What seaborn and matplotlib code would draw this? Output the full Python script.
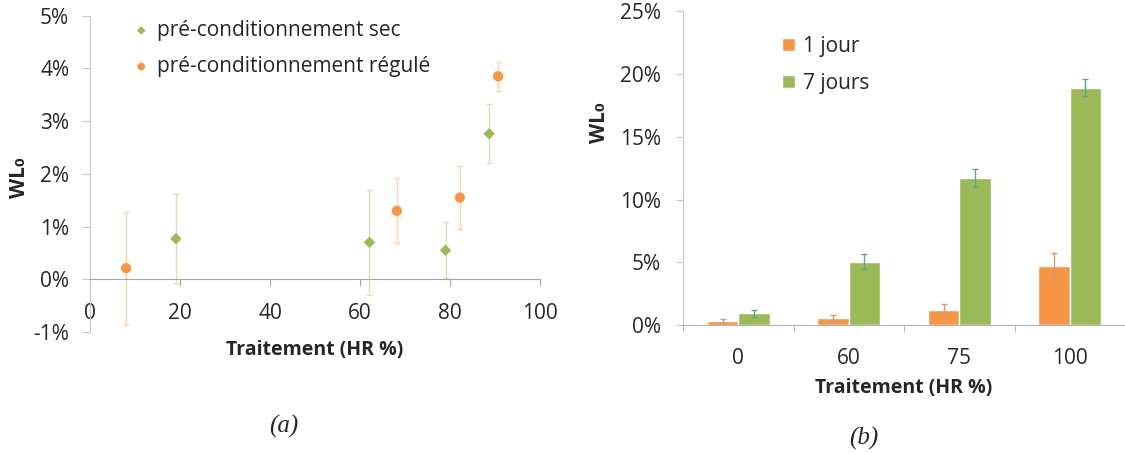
import numpy as np
import pandas as pd
import matplotlib
matplotlib.use("Agg")
import matplotlib.pyplot as plt
from matplotlib.ticker import FuncFormatter, FixedLocator
import seaborn as sns

# (a) perte de masse selon l'humidite du traitement
lab_sec = "pré-conditionnement sec"
lab_reg = "pré-conditionnement régulé"
hr_sec = [19.1, 62.1, 79.0, 88.7]
wl_sec = [0.77, 0.70, 0.55, 2.76]
err_sec = [0.84, 0.99, 0.53, 0.56]
hr_reg = [8.0, 68.2, 82.2, 90.7]
wl_reg = [0.21, 1.30, 1.55, 3.85]
err_reg = [1.07, 0.62, 0.60, 0.27]

# (b) 1 jour / 7 jours
traitements = ["0", "60", "75", "100"]
durees = ["1 jour", "7 jours"]
wl_1j = [0.34, 0.56, 1.24, 4.72]
err_1j = [0.15, 0.25, 0.45, 1.0]
wl_7j = [0.95, 5.07, 11.70, 18.9]
err_7j = [0.30, 0.60, 0.73, 0.70]

orange = "#F79646"
green = "#9BBB59"
txt = "#262626"
fs = 15

sns.set_style("ticks")
plt.rcParams["font.family"] = ["Open Sans", "DejaVu Sans"]
plt.rcParams["font.size"] = fs

fig = plt.figure(figsize=(11.25, 4.54), dpi=100)
W, H = 1125, 454
ax1 = fig.add_axes([90 / W, 1 - 332 / H, 450 / W, 316.3 / H])
ax2 = fig.add_axes([683 / W, 1 - 325.3 / H, 442 / W, 314.3 / H])

pct = FuncFormatter(lambda v, p: f"{v:.0f}%")

# ---- panel (a)
ax1.errorbar(hr_sec, wl_sec, yerr=err_sec, fmt="none", ecolor="#d5e2bd",
             elinewidth=1, capsize=2, capthick=1, zorder=2)
ax1.errorbar(hr_reg, wl_reg, yerr=err_reg, fmt="none", ecolor="#fbd3b0",
             elinewidth=1, capsize=2, capthick=1, zorder=2)
sns.scatterplot(x=hr_sec, y=wl_sec, color=green, marker="D", s=34,
                edgecolor="none", ax=ax1, zorder=3, label=lab_sec)
sns.scatterplot(x=hr_reg, y=wl_reg, color=orange, marker="o", s=55,
                edgecolor="none", ax=ax1, zorder=3, label=lab_reg)

ax1.set_xlim(0, 100)
ax1.set_ylim(-1, 5)
ax1.set_xticks(range(0, 101, 20))
ax1.set_yticks(range(-1, 6))
ax1.yaxis.set_major_formatter(pct)
for s in ["top", "right"]:
    ax1.spines[s].set_visible(False)
ax1.spines["bottom"].set_position(("data", 0))
ax1.spines["bottom"].set_color("#a6a6a6")
ax1.spines["left"].set_color("#c8c8c8")
ax1.tick_params(axis="x", length=5, color="#a6a6a6", pad=12, labelsize=fs, labelcolor=txt)
ax1.tick_params(axis="y", length=6, color="#c8c8c8", pad=9, labelsize=fs, labelcolor=txt)

ax1.set_xlabel("Traitement (HR %)", fontweight="bold", fontsize=fs - 1, color=txt)
ax1.xaxis.set_label_coords(0.5, -0.057)
ax1.xaxis.label.set_va("center")
ax1.set_ylabel("WL₀", fontweight="bold", fontsize=fs, color=txt)
ax1.yaxis.set_label_coords(-0.156, 0.49)
ax1.yaxis.label.set_va("center")

h, l = ax1.get_legend_handles_labels()
ax1.legend(h, l, loc="upper left", bbox_to_anchor=(135 / W, 1 - 20 / H),
           bbox_transform=fig.transFigure, frameon=False, fontsize=fs,
           handlelength=0.6, handletextpad=0.45, labelspacing=0.72,
           borderpad=0, borderaxespad=0, markerscale=0.75)

# ---- panel (b)
df_b = pd.DataFrame({
    "HR": traitements * 2,
    "WL": wl_1j + wl_7j,
    "duree": [durees[0]] * 4 + [durees[1]] * 4,
})
sns.barplot(data=df_b, x="HR", y="WL", hue="duree", order=traitements,
            palette={durees[0]: orange, durees[1]: green}, saturation=1,
            width=0.57, errorbar=None, ax=ax2, zorder=2)
for cont, errs, ec in zip(ax2.containers, [err_1j, err_7j], ["#d49a78", "#5fa883"]):
    xs = [b.get_x() + b.get_width() / 2 for b in cont]
    ys = [b.get_height() for b in cont]
    ax2.errorbar(xs, ys, yerr=errs, fmt="none", ecolor=ec, elinewidth=1,
                 capsize=2, capthick=1, zorder=3)

ax2.set_xlim(-0.5, 3.5)
ax2.set_ylim(0, 25)
ax2.set_yticks(range(0, 26, 5))
ax2.yaxis.set_major_formatter(pct)
ax2.xaxis.set_minor_locator(FixedLocator(np.arange(-0.5, 4, 1.0)))
for s in ["top", "right"]:
    ax2.spines[s].set_visible(False)
ax2.spines["bottom"].set_color("#b4b4b4")
ax2.spines["left"].set_color("#c8c8c8")
ax2.tick_params(axis="x", which="major", length=0, pad=16, labelsize=fs, labelcolor=txt)
ax2.tick_params(axis="x", which="minor", length=5, color="#b4b4b4")
ax2.tick_params(axis="y", length=5, color="#c8c8c8", pad=11, labelsize=fs, labelcolor=txt)

ax2.set_xlabel("Traitement (HR %)", fontweight="bold", fontsize=fs - 1, color=txt)
ax2.xaxis.set_label_coords(0.5, -0.1995)
ax2.xaxis.label.set_va("center")
ax2.set_ylabel("WL₀", fontweight="bold", fontsize=fs, color=txt)
ax2.yaxis.set_label_coords(-0.188, 0.644)
ax2.yaxis.label.set_va("center")

ax2.legend(loc="upper left", bbox_to_anchor=(782 / W, 1 - 36 / H),
           bbox_transform=fig.transFigure, frameon=False, fontsize=fs,
           handlelength=0.6, handleheight=0.6, handletextpad=0.4,
           labelspacing=0.75, borderpad=0, borderaxespad=0, title=None)

# captions
fig.text(284 / W, 1 - 426 / H, "(a)", fontsize=18, style="italic",
         family="Liberation Serif", ha="center", va="center", color=txt)
fig.text(864 / W, 1 - 438 / H, "(b)", fontsize=18, style="italic",
         family="Liberation Serif", ha="center", va="center", color=txt)

fig.savefig("out.png", dpi=100)
